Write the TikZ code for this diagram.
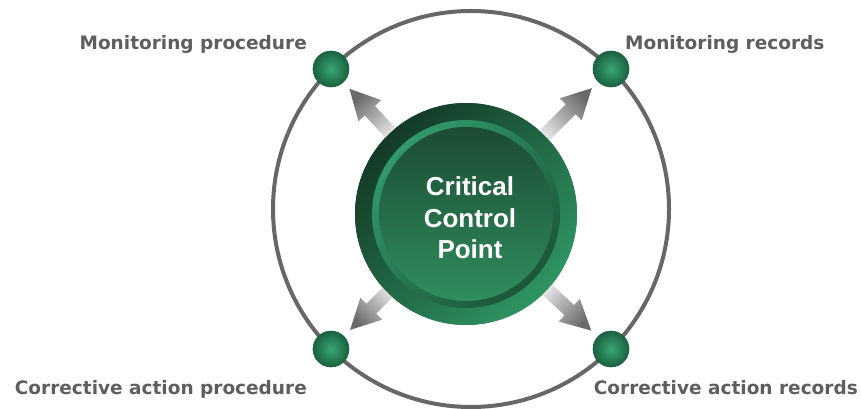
\documentclass[tikz,border=0pt]{standalone}
\usepackage{fontspec}
\setmainfont{DejaVu Sans}
\newfontfamily\ccpfont{Liberation Sans}
\usetikzlibrary{calc}

\definecolor{ringgray}{HTML}{676767}
\definecolor{lblgray}{HTML}{5E5E5E}
\definecolor{ccpdark}{HTML}{133A27}
\definecolor{ccplight}{HTML}{2F9462}
\definecolor{rimlight}{HTML}{31996A}
\definecolor{rimdark}{HTML}{1C5638}
\definecolor{facetop}{HTML}{1C4B33}
\definecolor{facebot}{HTML}{2F8E5E}
\definecolor{balllight}{HTML}{38A874}
\definecolor{balldark}{HTML}{1B6140}
\definecolor{arrowlight}{HTML}{F4F4F4}
\definecolor{arrowdark}{HTML}{6A6A6A}

\begin{document}
\begin{tikzpicture}[x=1pt,y=1pt,
    ball/.style={circle,minimum size=36pt,inner sep=0pt,draw=balldark,line width=0.6pt,
      inner color=balllight,outer color=balldark},
    lbl/.style={inner sep=0pt,text=lblgray,font=\bfseries\fontsize{18.5}{22}\selectfont}]
  \useasboundingbox (0,0) rectangle (861,409);

  \coordinate (ring) at (471,200);
  \draw[ringgray,line width=4pt] (ring) circle (198);

  \node[ball] (mp) at ($(ring)+(135:198)$) {};
  \node[ball] (mr) at ($(ring)+(45:198)$) {};
  \node[ball] (cp) at ($(ring)+(225:198)$) {};
  \node[ball] (cr) at ($(ring)+(-45:198)$) {};

  \node[circle,minimum size=222pt,inner sep=0pt,top color=ccpdark,bottom color=ccplight,
    shading angle=45] (ccp) at (466,195) {};

  \foreach \b/\a in {mp/223,mr/135,cp/315,cr/47}{
    \path ($(ccp.center)!100pt!(\b.center)$) coordinate (t0)
          ($(\b.center)!27pt!(ccp.center)$) coordinate (tip)
          ($(tip)!30pt!(ccp.center)$) coordinate (h0);
    \shade[top color=arrowlight,bottom color=arrowdark,shading angle=\a]
      ($(t0)!7pt!90:(tip)$) -- ($(h0)!7pt!90:(tip)$) -- ($(h0)!15.5pt!90:(tip)$) -- (tip)
      -- ($(h0)!15.5pt!-90:(tip)$) -- ($(h0)!7pt!-90:(tip)$) -- ($(t0)!7pt!-90:(tip)$) -- cycle;
  }

  % the disc again on top of the arrow tails
  \shade[top color=ccpdark,bottom color=ccplight,shading angle=45] (ccp.center) circle (111);
  \shade[top color=rimlight,bottom color=rimdark,shading angle=45] (ccp.center) circle (94);
  \shade[top color=facetop,bottom color=facebot] (ccp.center) circle (87);
  \node[align=center,text=white,inner sep=0pt,
    font=\ccpfont\bfseries\fontsize{26}{31.5}\selectfont] (ccptext) at (470,191)
    {Critical\\Control\\Point};

  \node[lbl,anchor=base east] (lmp) at (307,359) {Monitoring procedure};
  \node[lbl,anchor=base west] (lmr) at (625,359) {Monitoring records};
  \node[lbl,anchor=base east] (lcp) at (307,14) {Corrective action procedure};
  \node[lbl,anchor=base east] (lcr) at (858,14) {Corrective action records};
\end{tikzpicture}
\end{document}
